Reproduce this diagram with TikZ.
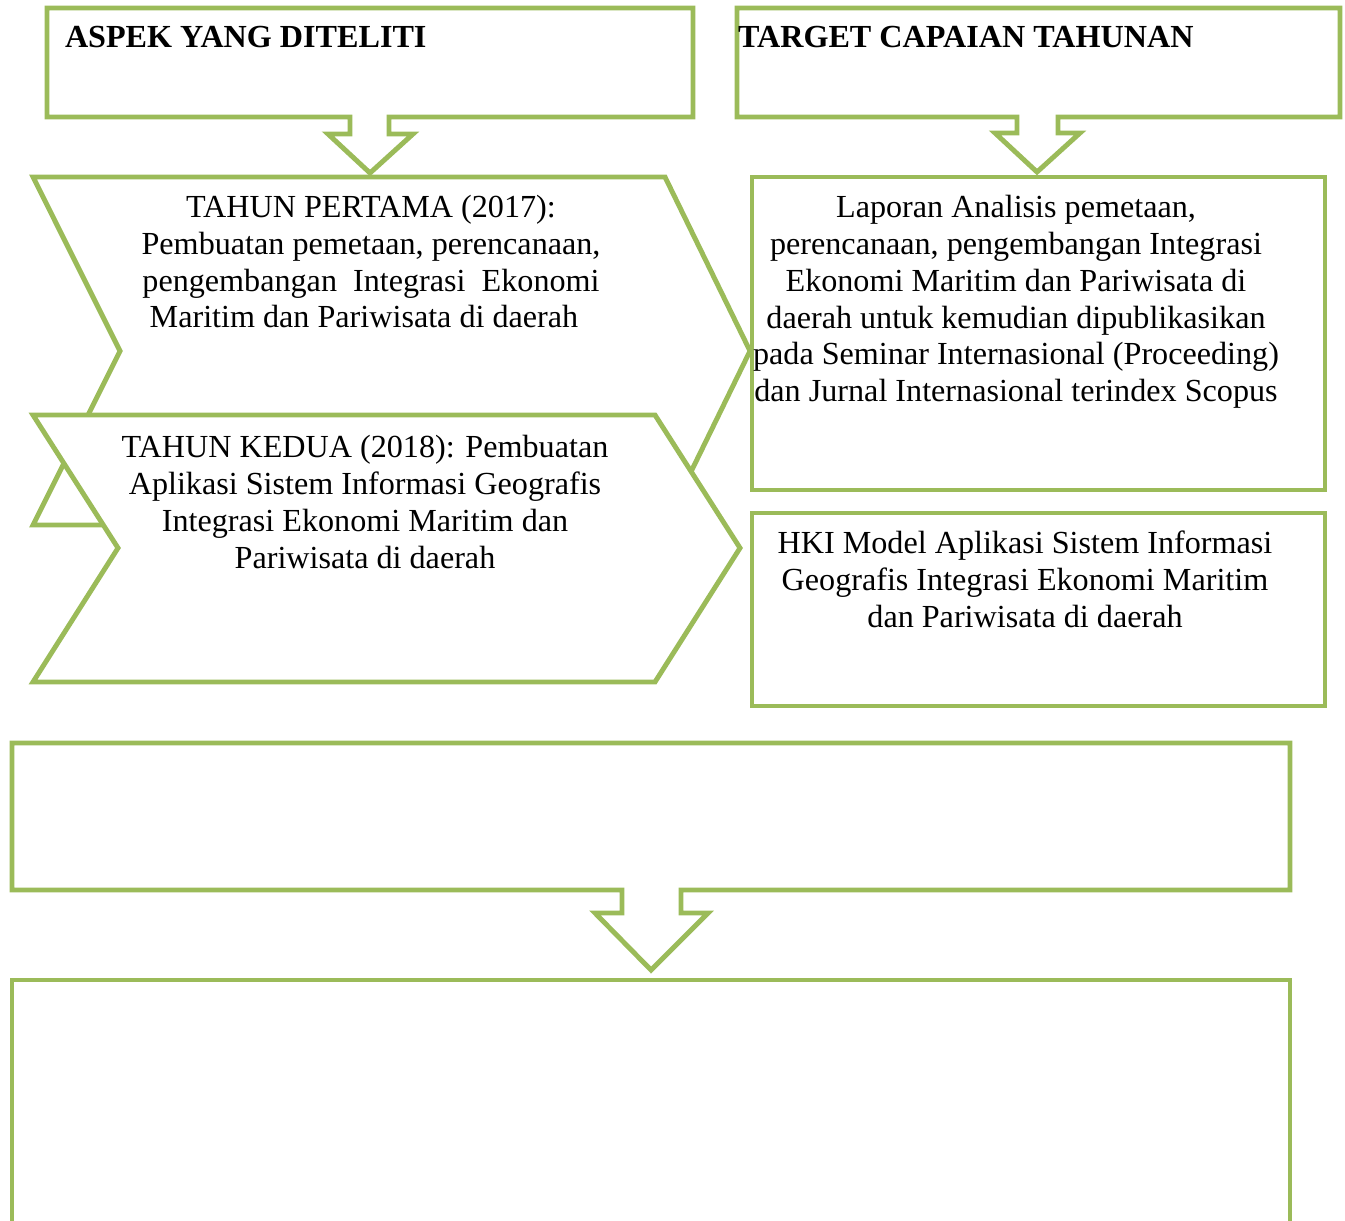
\documentclass[tikz,border=0pt]{standalone}
\usepackage{fontspec}
\setmainfont{Liberation Serif}
\definecolor{olivegreen}{RGB}{155,187,89}
\begin{document}
\begin{tikzpicture}[x=0.02cm,y=-0.02cm,line width=2.8pt,
outline/.style={draw=olivegreen,fill=white,line join=miter},
txtblock/.style={inner sep=0pt,outer sep=0pt,align=center,anchor=north,font=\fontsize{18.3}{21}\selectfont},
headtxt/.style={inner sep=0pt,outer sep=0pt,anchor=north west,font=\fontsize{18.3}{21}\selectfont\bfseries}]
\useasboundingbox (0,0) rectangle (1345,1220);
\draw[outline] (47,8) -- (693,8) -- (693,117) -- (389,117) -- (389,134) -- (413,134) -- (370,173) -- (328,134) -- (350,134) -- (350,117) -- (47,117) -- cycle;
\draw[outline] (737,8) -- (1340,8) -- (1340,117) -- (1058,117) -- (1058,133) -- (1080,133) -- (1037,172) -- (995,133) -- (1017,133) -- (1017,117) -- (737,117) -- cycle;
\draw[outline] (33,177) -- (665,177) -- (750,351) -- (665,525) -- (33,525) -- (120,351) -- cycle;
\draw[outline] (33,415) -- (655,415) -- (740,548) -- (655,682) -- (33,682) -- (118,548) -- cycle;
\draw[outline] (752,177) rectangle (1325,490);
\draw[outline] (752,513) rectangle (1325,706);
\draw[outline] (12,743) -- (1290,743) -- (1290,890) -- (681,890) -- (681,913) -- (708,913) -- (651,970) -- (595,913) -- (622,913) -- (622,890) -- (12,890) -- cycle;
\draw[outline] (12,1224) -- (12,980) -- (1290,980) -- (1290,1224);
\draw (65,26) node[headtxt] (aspek) {ASPEK YANG DITELITI};
\draw (738,26) node[headtxt] (target) {TARGET CAPAIAN TAHUNAN};
\draw (371,195) node[txtblock] (tahun1) {TAHUN PERTAMA (2017):\\Pembuatan pemetaan, perencanaan,\\pengembangan\ \ Integrasi\ \ Ekonomi\\Maritim dan Pariwisata di daerah\hspace*{8pt}};
\draw (365,435) node[txtblock] (tahun2) {TAHUN KEDUA (2018): Pembuatan\\Aplikasi Sistem Informasi Geografis\\Integrasi Ekonomi Maritim dan\\Pariwisata di daerah};
\draw (1016,195) node[txtblock] (laporan) {Laporan Analisis pemetaan,\\perencanaan, pengembangan Integrasi\\Ekonomi Maritim dan Pariwisata di\\daerah untuk kemudian dipublikasikan\\pada Seminar Internasional (Proceeding)\\dan Jurnal Internasional terindex Scopus};
\draw (1025,531) node[txtblock] (hki) {HKI Model Aplikasi Sistem Informasi\\Geografis Integrasi Ekonomi Maritim\\dan Pariwisata di daerah};
\end{tikzpicture}
\end{document}
